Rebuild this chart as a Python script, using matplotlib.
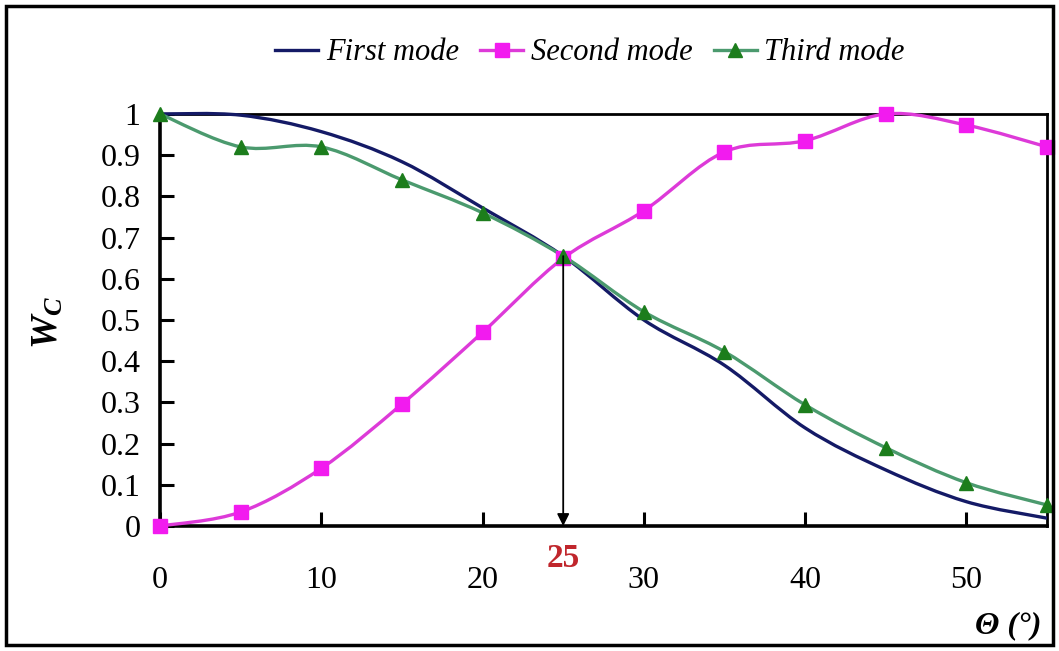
import numpy as np
import matplotlib.pyplot as plt
from matplotlib.path import Path
from matplotlib.patches import PathPatch, Rectangle
from matplotlib.lines import Line2D

plt.rcParams['font.family'] = 'Liberation Serif'
plt.rcParams['mathtext.fontset'] = 'custom'
plt.rcParams['mathtext.rm'] = 'Liberation Serif'
plt.rcParams['mathtext.it'] = 'Liberation Serif:italic:bold'

theta = [0, 5, 10, 15, 20, 25, 30, 35, 40, 45, 50, 55]
first_mode = [1.0, 0.997, 0.957, 0.884, 0.772, 0.655, 0.50, 0.39, 0.238, 0.136, 0.059, 0.019]
second_mode = [0.0, 0.034, 0.14, 0.296, 0.47, 0.65, 0.765, 0.908, 0.935, 1.0, 0.973, 0.92]
third_mode = [1.0, 0.92, 0.92, 0.84, 0.76, 0.655, 0.52, 0.423, 0.294, 0.19, 0.105, 0.051]
mark_x = 25
mark_y = 0.655

c_first = '#141a66'
c_second_line, c_second_mk = '#dd3ad8', '#f21bef'
c_third_line, c_third_mk = '#4b9a6e', '#1c7d1c'


def smooth_path(x, y):
    # Excel-style smoothed line as cubic bezier segments
    p = np.column_stack([x, y]).astype(float)
    n = len(p)
    verts = [p[0]]
    codes = [Path.MOVETO]
    for i in range(n - 1):
        p0 = p[i - 1] if i > 0 else p[i]
        p3 = p[i + 2] if i + 2 < n else p[i + 1]
        c1 = p[i] + (p[i + 1] - p0) / 6
        c2 = p[i + 1] - (p3 - p[i]) / 6
        verts += [c1, c2, p[i + 1]]
        codes += [Path.CURVE4] * 3
    return Path(verts, codes)


fig = plt.figure(figsize=(10.59, 6.51), dpi=100)
ax = fig.add_axes([0.1511, 0.192, 0.8376, 0.633])

ax.add_patch(PathPatch(smooth_path(theta, first_mode), fill=False, ec=c_first, lw=2.4, clip_on=False, zorder=3))
ax.add_patch(PathPatch(smooth_path(theta, third_mode), fill=False, ec=c_third_line, lw=2.4, clip_on=False, zorder=3))
ax.add_patch(PathPatch(smooth_path(theta, second_mode), fill=False, ec=c_second_line, lw=2.4, clip_on=False, zorder=3))
ax.plot(theta, second_mode, ls='none', marker='s', ms=10, color=c_second_mk, clip_on=False, zorder=4)
ax.plot(theta, third_mode, ls='none', marker='^', ms=10, color=c_third_mk, clip_on=False, zorder=4)

ax.annotate('', xy=(mark_x, 0), xytext=(mark_x, mark_y),
            arrowprops=dict(arrowstyle='-|>', color='black', lw=1.3, mutation_scale=18, shrinkA=0, shrinkB=0),
            zorder=5)
ax.text(mark_x, -0.08, '25', color='#c0262c', fontsize=24, fontweight='bold',
        ha='center', va='center', transform=ax.transData)

ax.set_xlim(0, 55)
ax.set_ylim(0, 1)
ax.set_xticks([0, 10, 20, 30, 40, 50])
ax.set_yticks(np.arange(0, 1.01, 0.1))
ax.set_yticklabels(['0', '0.1', '0.2', '0.3', '0.4', '0.5', '0.6', '0.7', '0.8', '0.9', '1'])
ax.tick_params(axis='both', direction='in', length=10, width=2.2, labelsize=23)
ax.tick_params(axis='x', pad=29)
ax.tick_params(axis='y', pad=14)
for side in ['left', 'bottom']:
    ax.spines[side].set_linewidth(2.6)
for side in ['top', 'right']:
    ax.spines[side].set_linewidth(2.0)

fig.text(48 / 1059, 1 - 322 / 651, '$W_C$', rotation=90, fontsize=27, ha='center', va='center')
fig.text(1008 / 1059, 1 - 626 / 651, 'Θ (°)', fontsize=23, fontstyle='italic', fontweight='bold',
         ha='center', va='center')

handles = [
    Line2D([], [], color=c_first, lw=2.4),
    Line2D([], [], color=c_second_line, lw=2.4, marker='s', ms=10, mfc=c_second_mk, mec=c_second_mk),
    Line2D([], [], color=c_third_line, lw=2.4, marker='^', ms=10, mfc=c_third_mk, mec=c_third_mk),
]
fig.legend(handles, ['First mode', 'Second mode', 'Third mode'], loc='center',
           bbox_to_anchor=(590 / 1059, 1 - 53 / 651), ncol=3, frameon=False,
           handlelength=1.4, handletextpad=0.25, columnspacing=0.7,
           prop=dict(family='Liberation Serif', style='italic', size=22))

fig.add_artist(Rectangle((6 / 1059, 6 / 651), 1 - 12 / 1059, 1 - 12 / 651, transform=fig.transFigure,
                         fill=False, ec='black', lw=2.5))

fig.savefig('out.png', dpi=100)
